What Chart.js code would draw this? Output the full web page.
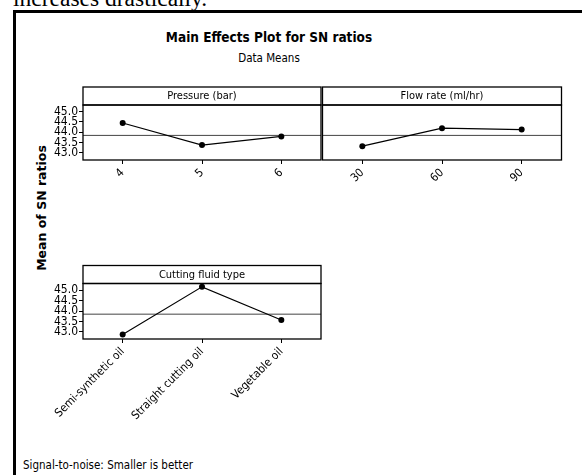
<!DOCTYPE html>
<html>
<head>
<meta charset="utf-8">
<script src="https://cdn.jsdelivr.net/npm/chart.js@4.4.0/dist/chart.umd.min.js"></script>
<style>
  body { margin: 0; background: #fff; }
  #page { position: relative; width: 582px; height: 475px; overflow: hidden; background: #fff;
          font-family: 'DejaVu Sans Condensed', 'DejaVu Sans', sans-serif; color: #000; }
  .txt { position: absolute; white-space: nowrap; line-height: 1; }
  #frame { position: absolute; left: 13px; top: 10px; width: 620px; height: 520px;
           border-left: 3px solid #000; border-top: 3px solid #000; }
  canvas { position: absolute; }
</style>
</head>
<body>
<div id="page">
  <div class="txt" style="left:13px; top:-15px; font: 23.5px 'Liberation Serif', serif;">increases drastically.</div>
  <div id="frame"></div>
  <div class="txt" style="left:0; width:538px; text-align:center; top:31px; font-weight:bold; font-size:13.5px;">Main Effects Plot for SN ratios</div>
  <div class="txt" style="left:0; width:538px; text-align:center; top:53px; font-size:11.5px;">Data Means</div>
  <div class="txt" style="left:41px; top:208px; transform: translate(-50%, -50%) rotate(-90deg); font: bold 12.5px 'DejaVu Sans', sans-serif;">Mean of SN ratios</div>
  <div class="txt" style="left:23px; top:460px; font-size:11.5px;">Signal-to-noise: Smaller is better</div>

  <canvas id="pressure" width="305" height="115" style="left:20px; top:80px;"></canvas>
  <canvas id="flow" width="260" height="115" style="left:315px; top:80px;"></canvas>
  <canvas id="fluid" width="305" height="180" style="left:20px; top:258px;"></canvas>
</div>

<script>
// mean SN ratio at each factor level
const pressureLevels = ['4', '5', '6'];
const pressureSN = [44.45, 43.38, 43.80];

const flowLevels = ['30', '60', '90'];
const flowSN = [43.33, 44.20, 44.13];

const fluidLevels = ['Semi-synthetic oil', 'Straight cutting oil', 'Vegetable oil'];
const fluidSN = [42.88, 45.16, 43.57];

const yTicks = [43.0, 43.5, 44.0, 44.5, 45.0];
const grandMean = 43.85;

const fontFamily = "'DejaVu Sans Condensed', 'DejaVu Sans', sans-serif";

// header strip, reference line and box around each panel
const panelFrame = {
  id: 'panelFrame',
  beforeDatasetsDraw(chart) {
    const { ctx, chartArea: a, scales: { y } } = chart;
    const my = y.getPixelForValue(grandMean);
    ctx.save();
    ctx.strokeStyle = '#444';
    ctx.lineWidth = 1;
    ctx.beginPath();
    ctx.moveTo(a.left, my);
    ctx.lineTo(a.right, my);
    ctx.stroke();
    ctx.restore();
  },
  afterDraw(chart, args, opts) {
    const { ctx, chartArea: a } = chart;
    ctx.save();
    ctx.strokeStyle = '#000';
    ctx.lineWidth = 1.3;
    ctx.strokeRect(a.left, a.top, a.right - a.left, a.bottom - a.top);
    ctx.strokeRect(a.left, a.top - 18, a.right - a.left, 18);
    ctx.fillStyle = '#000';
    ctx.font = '11px ' + fontFamily;
    ctx.textAlign = 'center';
    ctx.textBaseline = 'middle';
    ctx.fillText(opts.header, (a.left + a.right) / 2, a.top - 8.5);
    ctx.restore();
  }
};

function makePanel(id, header, levels, values, o) {
  const canvas = document.getElementById(id);
  return new Chart(canvas.getContext('2d'), {
    type: 'line',
    data: {
      labels: levels,
      datasets: [{
        data: values,
        borderColor: '#000',
        borderWidth: 1.2,
        pointRadius: 3,
        pointBackgroundColor: '#000',
        pointBorderWidth: 0,
        tension: 0
      }]
    },
    options: {
      responsive: false,
      animation: false,
      layout: { padding: o.padding },
      plugins: {
        legend: { display: false },
        tooltip: { enabled: false },
        panelFrame: { header: header }
      },
      scales: {
        x: {
          offset: true,
          grid: { display: true, drawOnChartArea: false, drawTicks: true, tickLength: 4, color: '#000' },
          border: { display: false },
          ticks: { autoSkip: false, minRotation: 45, maxRotation: 45, padding: 2, color: '#000',
                   font: { family: fontFamily, size: 11.5 } },
          afterFit: s => { s.height = o.xHeight; }
        },
        y: {
          display: o.showY,
          min: 42.66,
          max: 45.32,
          afterBuildTicks: s => { s.ticks = yTicks.map(v => ({ value: v })); },
          grid: { display: true, drawOnChartArea: false, drawTicks: true, tickLength: 4, color: '#000' },
          border: { display: false },
          ticks: { autoSkip: false, padding: 1, color: '#000', font: { family: fontFamily, size: 12 },
                   callback: v => v.toFixed(1) },
          afterFit: s => { s.width = o.showY ? 63 : 0; }
        }
      }
    },
    plugins: [panelFrame]
  });
}

makePanel('pressure', 'Pressure (bar)', pressureLevels, pressureSN,
  { showY: true, xHeight: 35, padding: { top: 25, right: 2.5, left: 0, bottom: 0 } });
makePanel('flow', 'Flow rate (ml/hr)', flowLevels, flowSN,
  { showY: false, xHeight: 35, padding: { top: 25, right: 13.5, left: 7.5, bottom: 0 } });
makePanel('fluid', 'Cutting fluid type', fluidLevels, fluidSN,
  { showY: true, xHeight: 99, padding: { top: 25.5, right: 2.5, left: 0, bottom: 0 } });
</script>
</body>
</html>
